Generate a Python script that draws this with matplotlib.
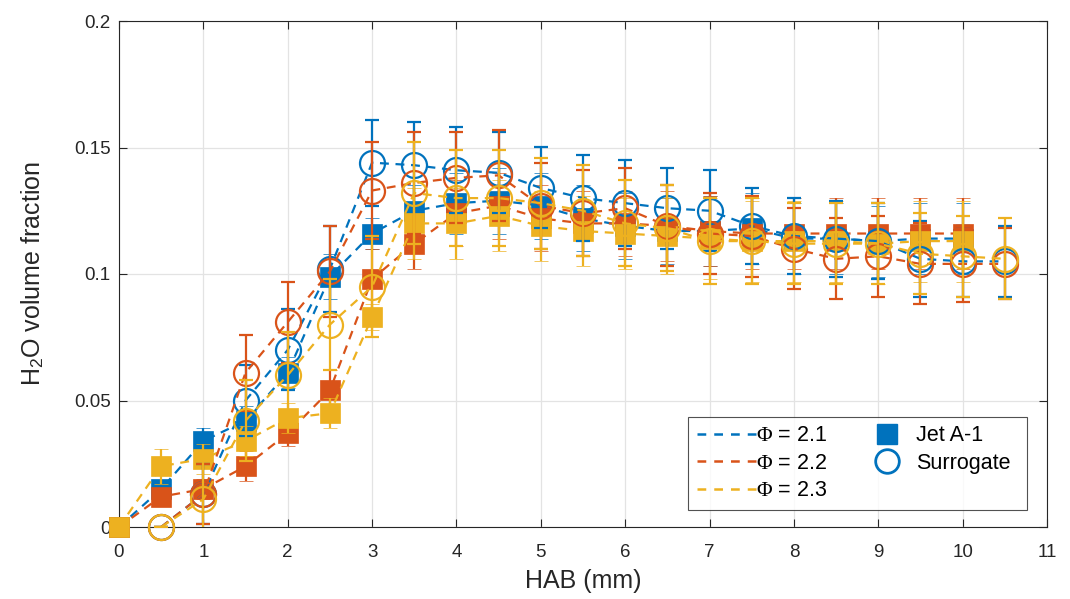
import matplotlib
matplotlib.use("Agg")
import matplotlib.pyplot as plt
from matplotlib.lines import Line2D

plt.rcParams['font.family'] = ['Liberation Sans', 'DejaVu Sans']
plt.rcParams['mathtext.fontset'] = 'custom'
plt.rcParams['mathtext.rm'] = 'Liberation Serif'
plt.rcParams['mathtext.sf'] = 'Liberation Sans'
plt.rcParams['mathtext.it'] = 'Liberation Serif:italic'

# ---------------- data ----------------
x_jet = [0, 0.5, 1, 1.5, 2, 2.5, 3, 3.5, 4, 4.5, 5, 5.5, 6, 6.5, 7, 7.5, 8, 8.5, 9, 9.5, 10]
x_sur = [0.5, 1, 1.5, 2, 2.5, 3, 3.5, 4, 4.5, 5, 5.5, 6, 6.5, 7, 7.5, 8, 8.5, 9, 9.5, 10, 10.5]

jet_21 = [0, 0.015, 0.034, 0.042, 0.061, 0.099, 0.116, 0.125, 0.128, 0.129, 0.127, 0.122, 0.119,
          0.117, 0.117, 0.118, 0.114, 0.114, 0.113, 0.114, 0.114]
jet_22 = [0, 0.012, 0.015, 0.024, 0.037, 0.054, 0.098, 0.112, 0.124, 0.127, 0.122, 0.120, 0.120,
          0.119, 0.117, 0.116, 0.116, 0.116, 0.116, 0.116, 0.116]
jet_23 = [0, 0.024, 0.027, 0.034, 0.043, 0.045, 0.083, 0.120, 0.120, 0.123, 0.119, 0.117, 0.116,
          0.115, 0.114, 0.113, 0.113, 0.113, 0.112, 0.113, 0.113]

err_jet_21 = [0, 0.003, 0.005, 0.006, 0.006, 0.009, 0.006, 0.010, 0.012, 0.013, 0.013, 0.013, 0.013,
              0.013, 0.014, 0.014, 0.014, 0.014, 0.014, 0.014, 0.014]
err_jet_22 = [0, 0.003, 0.004, 0.006, 0.005, 0.008, 0.012, 0.010, 0.013, 0.013, 0.013, 0.013, 0.013,
              0.014, 0.014, 0.014, 0.014, 0.014, 0.014, 0.014, 0.014]
err_jet_23 = [0, 0.007, 0.006, 0.006, 0.006, 0.006, 0.005, 0.014, 0.014, 0.014, 0.014, 0.014, 0.014,
              0.015, 0.016, 0.016, 0.016, 0.016, 0.016, 0.016, 0.016]

sur_21 = [0, 0.013, 0.050, 0.070, 0.102, 0.144, 0.143, 0.141, 0.140, 0.134, 0.130, 0.128, 0.126,
          0.125, 0.119, 0.115, 0.114, 0.113, 0.106, 0.105, 0.105]
sur_22 = [0, 0.013, 0.061, 0.081, 0.101, 0.133, 0.136, 0.138, 0.139, 0.127, 0.124, 0.126, 0.119,
          0.116, 0.115, 0.110, 0.106, 0.107, 0.104, 0.104, 0.104]
sur_23 = [0, 0.011, 0.042, 0.060, 0.080, 0.095, 0.132, 0.130, 0.130, 0.128, 0.125, 0.120, 0.118,
          0.113, 0.113, 0.112, 0.112, 0.112, 0.108, 0.107, 0.106]

err_sur_21 = [0, 0.012, 0.014, 0.016, 0.017, 0.017, 0.017, 0.017, 0.016, 0.016, 0.017, 0.017, 0.016,
              0.016, 0.015, 0.015, 0.015, 0.015, 0.015, 0.014, 0.014]
err_sur_22 = [0, 0.012, 0.015, 0.016, 0.018, 0.019, 0.020, 0.018, 0.018, 0.017, 0.017, 0.016, 0.016,
              0.016, 0.016, 0.016, 0.016, 0.016, 0.016, 0.015, 0.014]
err_sur_23 = [0, 0.018, 0.016, 0.017, 0.018, 0.020, 0.020, 0.019, 0.019, 0.018, 0.018, 0.017, 0.017,
              0.017, 0.017, 0.016, 0.016, 0.016, 0.016, 0.016, 0.016]

phi_labels = [r'$\Phi$ = 2.1', r'$\Phi$ = 2.2', r'$\Phi$ = 2.3']
fuel_labels = ['Jet A-1', 'Surrogate']
x_ticks = list(range(0, 12))
y_ticks = [0, 0.05, 0.1, 0.15, 0.2]
y_ticklabels = ['0', '0.05', '0.1', '0.15', '0.2']

colors = ['#0072BD', '#D95319', '#EDB120']

# ---------------- figure ----------------
fig = plt.figure(figsize=(10.7, 5.99), dpi=100)
ax = fig.add_axes([119 / 1070, 1 - 527 / 599, (1047 - 119) / 1070, (527 - 21) / 599])

dash = (4, 3)
jet_sets = [(jet_21, err_jet_21), (jet_22, err_jet_22), (jet_23, err_jet_23)]
sur_sets = [(sur_21, err_sur_21), (sur_22, err_sur_22), (sur_23, err_sur_23)]

z = 3
for (vals, errs), c in zip(jet_sets, colors):
    ebc = ax.errorbar(x_jet, vals, yerr=errs, color=c, ecolor=c, linestyle='--', linewidth=1.6,
                      marker='s', markersize=14, markerfacecolor=c, markeredgecolor=c,
                      markeredgewidth=0.5, elinewidth=1.6, capsize=5, capthick=1.6, zorder=z)
    ebc[0].set_dashes(dash)
    ebc[0].set_clip_on(False)
    z += 1
for (vals, errs), c in zip(sur_sets, colors):
    ebc = ax.errorbar(x_sur, vals, yerr=errs, color=c, ecolor=c, linestyle='--', linewidth=1.6,
                      marker='o', markersize=18, markerfacecolor='none', markeredgecolor=c,
                      markeredgewidth=1.6, elinewidth=1.6, capsize=5, capthick=1.6, zorder=z)
    ebc[0].set_dashes(dash)
    ebc[0].set_clip_on(False)
    z += 1

ax.set_xlim(0, 11)
ax.set_ylim(0, 0.2)
ax.set_xticks(x_ticks)
ax.set_yticks(y_ticks)
ax.set_yticklabels(y_ticklabels)
ax.grid(True, color='#e3e3e3', linewidth=0.9)
ax.set_axisbelow(True)
ax.tick_params(direction='in', length=6, width=0.8, colors='#262626', labelsize=13.5,
               top=True, right=True)
ax.tick_params(axis='x', pad=12)
ax.tick_params(axis='y', pad=6)
for s in ax.spines.values():
    s.set_color('#262626')
    s.set_linewidth(0.8)

ax.set_xlabel('HAB (mm)', fontsize=18, color='#262626', labelpad=6)
ax.set_ylabel(r'H$_{\mathsf{2}}$O volume fraction', fontsize=18, color='#262626', labelpad=20)

handles = []
for c in colors:
    h = Line2D([], [], color=c, linestyle='--', linewidth=1.8)
    h.set_dashes((3.5, 3.2))
    handles.append(h)
handles.append(Line2D([], [], color=colors[0], linestyle='none', marker='s', markersize=15,
                      markerfacecolor=colors[0], markeredgecolor=colors[0]))
handles.append(Line2D([], [], color=colors[0], linestyle='none', marker='o', markersize=17,
                      markerfacecolor='none', markeredgecolor=colors[0], markeredgewidth=2.0))
handles.append(Line2D([], [], linestyle='none'))
labels = phi_labels + fuel_labels + [' ' * 17]

leg = ax.legend(handles, labels, ncol=2, loc='lower left', bbox_to_anchor=(688 / 1070, 1 - 510 / 599),
                bbox_transform=fig.transFigure, fontsize=15.5, frameon=True, fancybox=False,
                edgecolor='#262626', handlelength=2.75, handletextpad=0.0, columnspacing=1.4,
                labelspacing=0.3, borderpad=0.4, borderaxespad=0)
leg.get_frame().set_linewidth(0.8)
leg.set_zorder(20)

fig.savefig('out.png', dpi=100)
